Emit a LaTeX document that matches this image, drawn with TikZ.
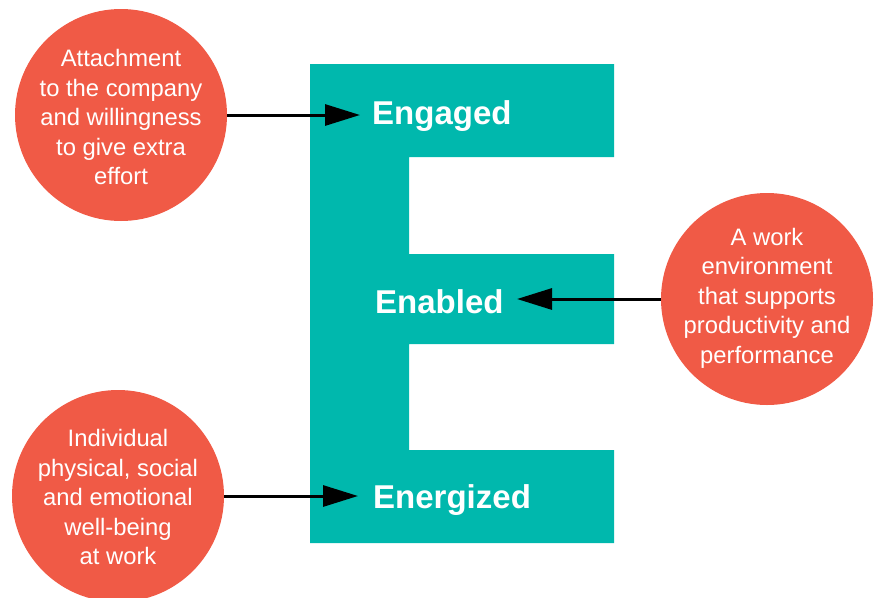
\documentclass[tikz,border=0pt]{standalone}
\usepackage{fontspec}
\setmainfont{Liberation Sans}
\usetikzlibrary{arrows.meta}
\definecolor{eteal}{RGB}{0,184,173}
\definecolor{ecoral}{RGB}{240,90,70}
\tikzset{
  bubble/.style={circle, fill=ecoral, draw=none, minimum size=212pt, inner sep=0pt},
  btext/.style={inner sep=0pt, text=white, align=center, font=\fontsize{23.8}{29.5}\selectfont},
  elabel/.style={anchor=base west, inner sep=0pt, text=white, font=\fontsize{33}{40}\selectfont\bfseries},
  arr/.style={line width=3pt, -{Triangle[length=35pt,width=21pt]}}
}
\begin{document}
\begin{tikzpicture}[x=1pt,y=-1pt]
\useasboundingbox (0,0) rectangle (882,597);
% E shape
\fill[eteal] (310,64) -- (614,64) -- (614,157) -- (409,157) -- (409,254) -- (614,254) -- (614,344) -- (409,344) -- (409,450) -- (614,450) -- (614,543) -- (310,543) -- cycle;
% labels
\node[elabel] (eng) at (372,124) {Engaged};
\node[elabel] (ena) at (375,313) {Enabled};
\node[elabel] (ene) at (373,508) {Energized};
% bubbles
\node[bubble] (c1) at (121,115) {};
\node[btext] (c1t) at (121,117) {Attachment\\to the company\\and willingness\\to give extra\\effort};
\node[bubble] (c2) at (767,299) {};
\node[btext] (c2t) at (767,298) {A work\\environment\\that supports\\productivity and\\performance};
\node[bubble] (c3) at (118,496) {};
\node[btext] (c3t) at (118,497) {Individual\\physical, social\\and emotional\\well-being\\at work};
% arrow tips
\coordinate (t1) at (360,115);
\coordinate (t2) at (517,299);
\coordinate (t3) at (358,496);
\draw[arr] (c1.east) -- (t1);
\draw[arr] (c2.west) -- (t2);
\draw[arr] (c3.east) -- (t3);
\end{tikzpicture}
\end{document}
